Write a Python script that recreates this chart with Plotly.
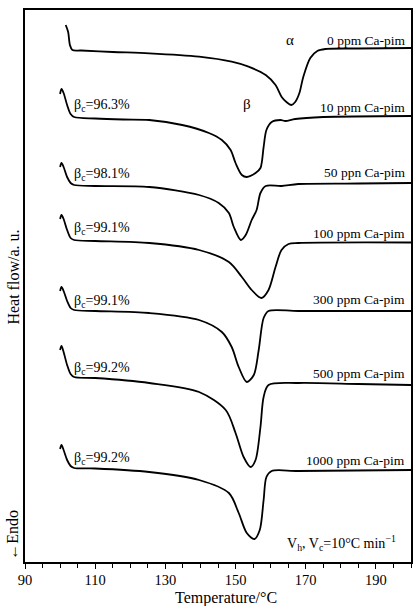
import plotly.graph_objects as go

# ---- data (temperature in °C, heat flow in a.u. incl. vertical offset) ----
samples = ["0 ppm Ca-pim", "10 ppm Ca-pim", "50 ppn Ca-pim", "100 ppm Ca-pim",
           "300 ppm Ca-pim", "500 ppm Ca-pim", "1000 ppm Ca-pim"]
beta_c = ["β<sub>c</sub>=96.3%", "β<sub>c</sub>=98.1%", "β<sub>c</sub>=99.1%",
          "β<sub>c</sub>=99.1%", "β<sub>c</sub>=99.2%", "β<sub>c</sub>=99.2%"]

T0 = [101.6, 102.3, 102.8, 103.5, 106, 115, 125.4, 139.6, 148.9, 153.7, 158.6, 161.4,
      163.1, 164.5, 165.9, 167.0, 168.2, 169.3, 171.3, 173.3, 175.6, 185, 200]
H0 = [53.7, 53.0, 51.7, 51.2, 51.15, 51.0, 50.87, 50.53, 50.03, 49.53, 48.7, 47.7,
      46.53, 46.0, 45.7, 46.0, 46.9, 48.5, 50.4, 51.1, 51.3, 51.35, 51.4]

T1 = [100.0, 100.4, 101.0, 102, 103, 104, 110, 118, 125.4, 134.8, 142.4, 146.1, 148.6,
      150, 151.8, 153.2, 155.7, 157.1, 158, 158.8, 160.3, 162.8, 164.2, 167, 175, 200]
H1 = [46.8, 47.3, 46.9, 45.7, 44.8, 44.5, 44.35, 44.25, 44.2, 43.7, 42.9, 42.2, 41.2,
      39.9, 38.7, 38.5, 38.9, 39.4, 41.5, 43.2, 44.0, 44.2, 44.1, 44.3, 44.5, 44.6]

T2 = [100.0, 100.4, 101, 102, 103, 104, 110, 125.4, 139.6, 145.2, 148.1, 149.5, 151.5,
      152.9, 154.6, 156, 157.1, 158.6, 163.1, 167.9, 185, 200]
H2 = [39.5, 39.9, 39.5, 38.5, 37.9, 37.7, 37.6, 37.5, 36.7, 35.9, 34.9, 33.5, 32.2,
      32.7, 34.2, 35.2, 36.9, 37.6, 37.6, 37.8, 37.85, 37.9]

T3 = [100.0, 100.4, 101, 102, 103, 104, 110, 125.4, 139.6, 148.1, 151.8, 154.6, 157.4,
      159.4, 161.4, 163.1, 165.1, 167.9, 200]
H3 = [34.3, 34.7, 34.3, 33.2, 32.4, 32.2, 32.1, 31.9, 31.2, 30.0, 28.5, 27.2, 26.4,
      27.2, 29.5, 31.2, 31.8, 31.9, 31.95]

T4 = [100.0, 100.4, 101, 102, 103, 104, 110, 125.4, 139.6, 146.1, 148.9, 150.9, 153.2,
      155.2, 156.6, 158, 159.4, 167.9, 200]
H4 = [27.1, 27.5, 27.1, 26.1, 25.4, 25.2, 25.1, 24.9, 24.2, 23.0, 21.5, 19.5, 18.0,
      18.7, 21.2, 24.4, 25.1, 25.1, 25.1]

T5 = [100.0, 100.4, 101, 102, 103, 104, 110, 125.4, 139.6, 147.2, 150, 152.3, 154.3,
      155.7, 157.1, 158, 159.4, 167.9, 185, 200]
H5 = [21.2, 21.6, 21.0, 19.7, 18.8, 18.5, 18.4, 17.9, 17.0, 15.2, 12.9, 10.5, 9.5,
      10.2, 13.5, 16.5, 17.7, 17.9, 17.8, 17.7]

T6 = [100.0, 100.4, 101, 102, 103, 104, 110, 125.4, 139.6, 148.1, 150.9, 153.2, 155.4,
      156.9, 158, 158.8, 160.3, 167.9, 200]
H6 = [11.3, 11.7, 11.2, 10.2, 9.6, 9.4, 9.35, 9.0, 8.2, 6.9, 4.9, 2.9, 2.3,
      3.2, 6.2, 8.5, 9.1, 9.1, 9.2]

x_tick_vals = [90, 110, 130, 150, 170, 190]
x_tick_text = ["90", "110", "130", "150", "170", "190"]

curves = [(T0, H0), (T1, H1), (T2, H2), (T3, H3), (T4, H4), (T5, H5), (T6, H6)]

FONT = "Liberation Serif"

fig = go.Figure()
for (t, h), name in zip(curves, samples):
    fig.add_trace(go.Scatter(x=t, y=h, mode="lines", name=name,
                             line=dict(color="black", width=1.8, shape="spline", smoothing=0.85),
                             showlegend=False, hoverinfo="skip"))

ann = []
label_y = [52.2, 45.5, 39.0, 32.9, 26.3, 18.9, 10.2]
for txt, yy in zip(samples, label_y):
    ann.append(dict(x=198.8, y=yy, xref="x", yref="y", text=txt, showarrow=False,
                    xanchor="right", yanchor="middle", font=dict(size=13.5, color="black", family=FONT)))
bc_y = [45.7, 38.8, 33.4, 26.1, 19.4, 10.4]
for txt, yy in zip(beta_c, bc_y):
    ann.append(dict(x=103.4, y=yy, xref="x", yref="y", text=txt, showarrow=False,
                    xanchor="left", yanchor="middle", font=dict(size=14, color="black", family=FONT)))
ann.append(dict(x=165.6, y=52.2, xref="x", yref="y", text="α", showarrow=False,
                font=dict(size=15, color="black", family=FONT)))
ann.append(dict(x=153.2, y=45.8, xref="x", yref="y", text="β", showarrow=False,
                font=dict(size=15, color="black", family=FONT)))
ann.append(dict(x=196.2, y=1.9, xref="x", yref="y",
                text="V<sub>h</sub>, V<sub>c</sub>=10°C min<sup>−1</sup>", showarrow=False,
                xanchor="right", yanchor="middle", font=dict(size=14, color="black", family=FONT)))
ann.append(dict(x=-0.03, y=0.516, xref="paper", yref="paper", text="Heat flow/a. u.",
                textangle=-90, showarrow=False, xanchor="center", yanchor="middle",
                font=dict(size=16, color="black", family=FONT)))
ann.append(dict(x=-0.033, y=0.05, xref="paper", yref="paper", text="←Endo",
                textangle=-90, showarrow=False, xanchor="center", yanchor="middle",
                font=dict(size=16, color="black", family=FONT)))
ann.append(dict(x=147.2, y=-0.066, xref="x", yref="paper", text="Temperature/°C",
                showarrow=False, xanchor="center", yanchor="middle",
                font=dict(size=16, color="black", family=FONT)))

fig.update_layout(
    width=414, height=606,
    margin=dict(l=25, r=1, t=10, b=44),
    paper_bgcolor="white", plot_bgcolor="white",
    font=dict(family=FONT, color="black"),
    annotations=ann,
    xaxis=dict(range=[90, 200], tickvals=x_tick_vals, ticktext=x_tick_text,
               ticks="outside", ticklen=5, tickwidth=1.3, tickcolor="black",
               ticklabelstandoff=-1,
               minor=dict(dtick=5, tick0=90, ticks="outside", ticklen=4, tickwidth=1.2, tickcolor="black"),
               showline=True, linecolor="black", linewidth=1.5, mirror=True,
               showgrid=False, zeroline=False, tickfont=dict(size=14.5, family=FONT, color="black")),
    yaxis=dict(range=[0, 55.2], showticklabels=False, ticks="",
               showline=True, linecolor="black", linewidth=1.5, mirror=True,
               showgrid=False, zeroline=False),
)

fig.write_html("out.html",
               config={"displayModeBar": False},
               post_script="document.body.style.margin='0';document.body.style.padding='0';"
                           "document.body.style.overflow='hidden';")
